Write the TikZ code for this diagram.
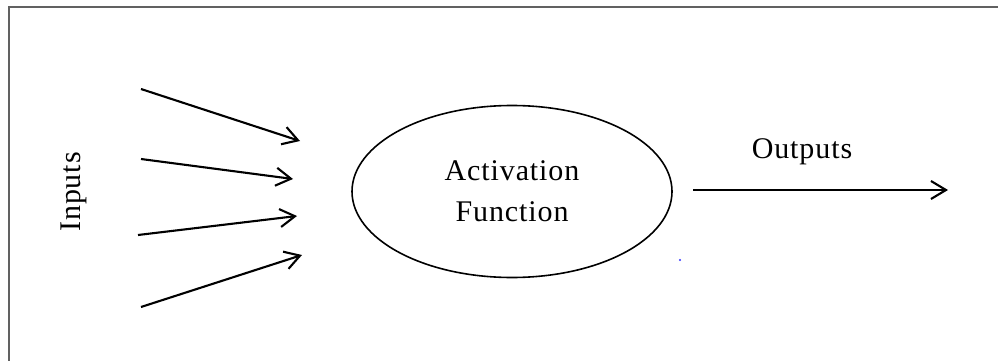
\documentclass[tikz,border=0pt]{standalone}
\usepackage{fontspec}
\setmainfont{Liberation Serif}[LetterSpace=3]
\usetikzlibrary{arrows.meta,shapes.geometric}
\begin{document}
\begin{tikzpicture}[x=1pt,y=-1pt,
  lbl/.style={inner sep=0pt,font=\fontsize{30}{41}\selectfont},
  conn/.style={line width=2.1pt,-{Straight Barb[length=15pt,width=18pt,line width=2.1pt]}},
  framer/.style={line width=2pt,draw=black!62}]
  % page extent
  \useasboundingbox (0,0) rectangle (998,361);
  \fill[white] (0,0) rectangle (998,361);
  % open frame: top and left edges only
  \coordinate (fTR) at (998,7.5);
  \coordinate (fTL) at (8.5,7.5);
  \coordinate (fBL) at (8.5,361);
  \draw[framer] (fTR) -- (fTL) -- (fBL);
  % neuron body
  \node (act) [ellipse,draw,line width=1.6pt,minimum width=320pt,minimum height=172pt,
    inner sep=0pt,align=center,font=\fontsize{30}{41}\selectfont] at (512,191.5)
    {Activation\\Function};
  % inputs label
  \node (inp) [lbl,rotate=90] at (74,192) {Inputs};
  % incoming connections
  \coordinate (s1) at (141,89);  \coordinate (e1) at (300,141);
  \coordinate (s2) at (141,159); \coordinate (e2) at (293,179);
  \coordinate (s3) at (138,235); \coordinate (e3) at (297,216);
  \coordinate (s4) at (141,307); \coordinate (e4) at (302,255);
  \foreach \i in {1,...,4} \draw[conn] (s\i) -- (e\i);
  % outgoing connection
  \coordinate (o1) at (693,190);
  \coordinate (o2) at (948,190);
  \draw[conn] (o1) -- (o2);
  \node (out) [lbl,anchor=base] at (802,158) {Outputs};
  % stray mark
  \fill[blue!80] (680,260) circle (1.2pt);
\end{tikzpicture}
\end{document}
